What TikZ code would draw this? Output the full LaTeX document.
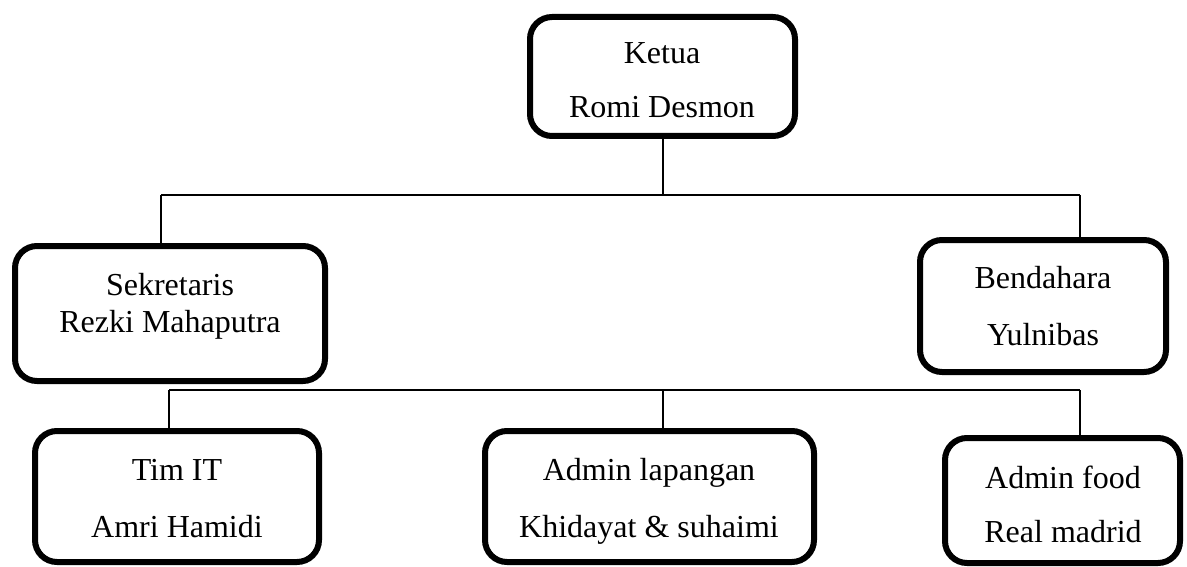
\documentclass[tikz,border=0pt]{standalone}
\usepackage{fontspec}
\setmainfont{Liberation Serif}
\begin{document}
\begin{tikzpicture}[x=1pt,y=-1pt,
  box/.style={draw=black,line width=6pt,rounded corners=22pt,inner sep=0pt,fill=white},
  txt/.style={anchor=base,inner sep=0pt,font=\fontsize{32}{38}\selectfont},
  conn/.style={draw=black,line width=1.6pt}]
\useasboundingbox[fill=white] (0,0) rectangle (1187,567);
% boxes
\node[box,minimum width=265pt,minimum height=119pt] (ketua) at (662.5,76.5) {};
\node[box,minimum width=310pt,minimum height=135pt] (sek) at (170,313.5) {};
\node[box,minimum width=246pt,minimum height=132pt] (bend) at (1043,306) {};
\node[box,minimum width=284pt,minimum height=131pt] (tim) at (177,496.5) {};
\node[box,minimum width=329pt,minimum height=131pt] (adml) at (649.5,496.5) {};
\node[box,minimum width=235pt,minimum height=125pt] (admf) at (1062.5,500.5) {};
% texts
\node[txt] (t1a) at (662,64) {Ketua};
\node[txt] (t1b) at (662,118) {Romi Desmon};
\node[txt] (t2a) at (170,295) {Sekretaris};
\node[txt] (t2b) at (170,332) {Rezki Mahaputra};
\node[txt] (t3a) at (1043,288) {Bendahara};
\node[txt] (t3b) at (1043,345) {Yulnibas};
\node[txt] (t4a) at (177,480) {Tim IT};
\node[txt] (t4b) at (177,537) {Amri Hamidi};
\node[txt] (t5a) at (649,480) {Admin lapangan};
\node[txt] (t5b) at (649,537) {Khidayat \& suhaimi};
\node[txt] (t6a) at (1063,488) {Admin food};
\node[txt] (t6b) at (1063,542) {Real madrid};
% connector coordinates
\coordinate (j1) at (663,195);
\coordinate (l1) at (161,195);
\coordinate (r1) at (1080,195);
\coordinate (l2) at (169,390);
\coordinate (m2) at (663,390);
\coordinate (r2) at (1080,390);
% connectors
\draw[conn] (ketua.south -| j1) -- (j1);
\draw[conn] (l1) -- (r1);
\draw[conn] (l1) -- (l1 |- sek.north);
\draw[conn] (r1) -- (r1 |- bend.north);
\draw[conn] (l2) -- (r2);
\draw[conn] (l2) -- (l2 |- tim.north);
\draw[conn] (m2) -- (m2 |- adml.north);
\draw[conn] (r2) -- (r2 |- admf.north);
% redraw box borders on top of connector ends
\end{tikzpicture}
\end{document}
